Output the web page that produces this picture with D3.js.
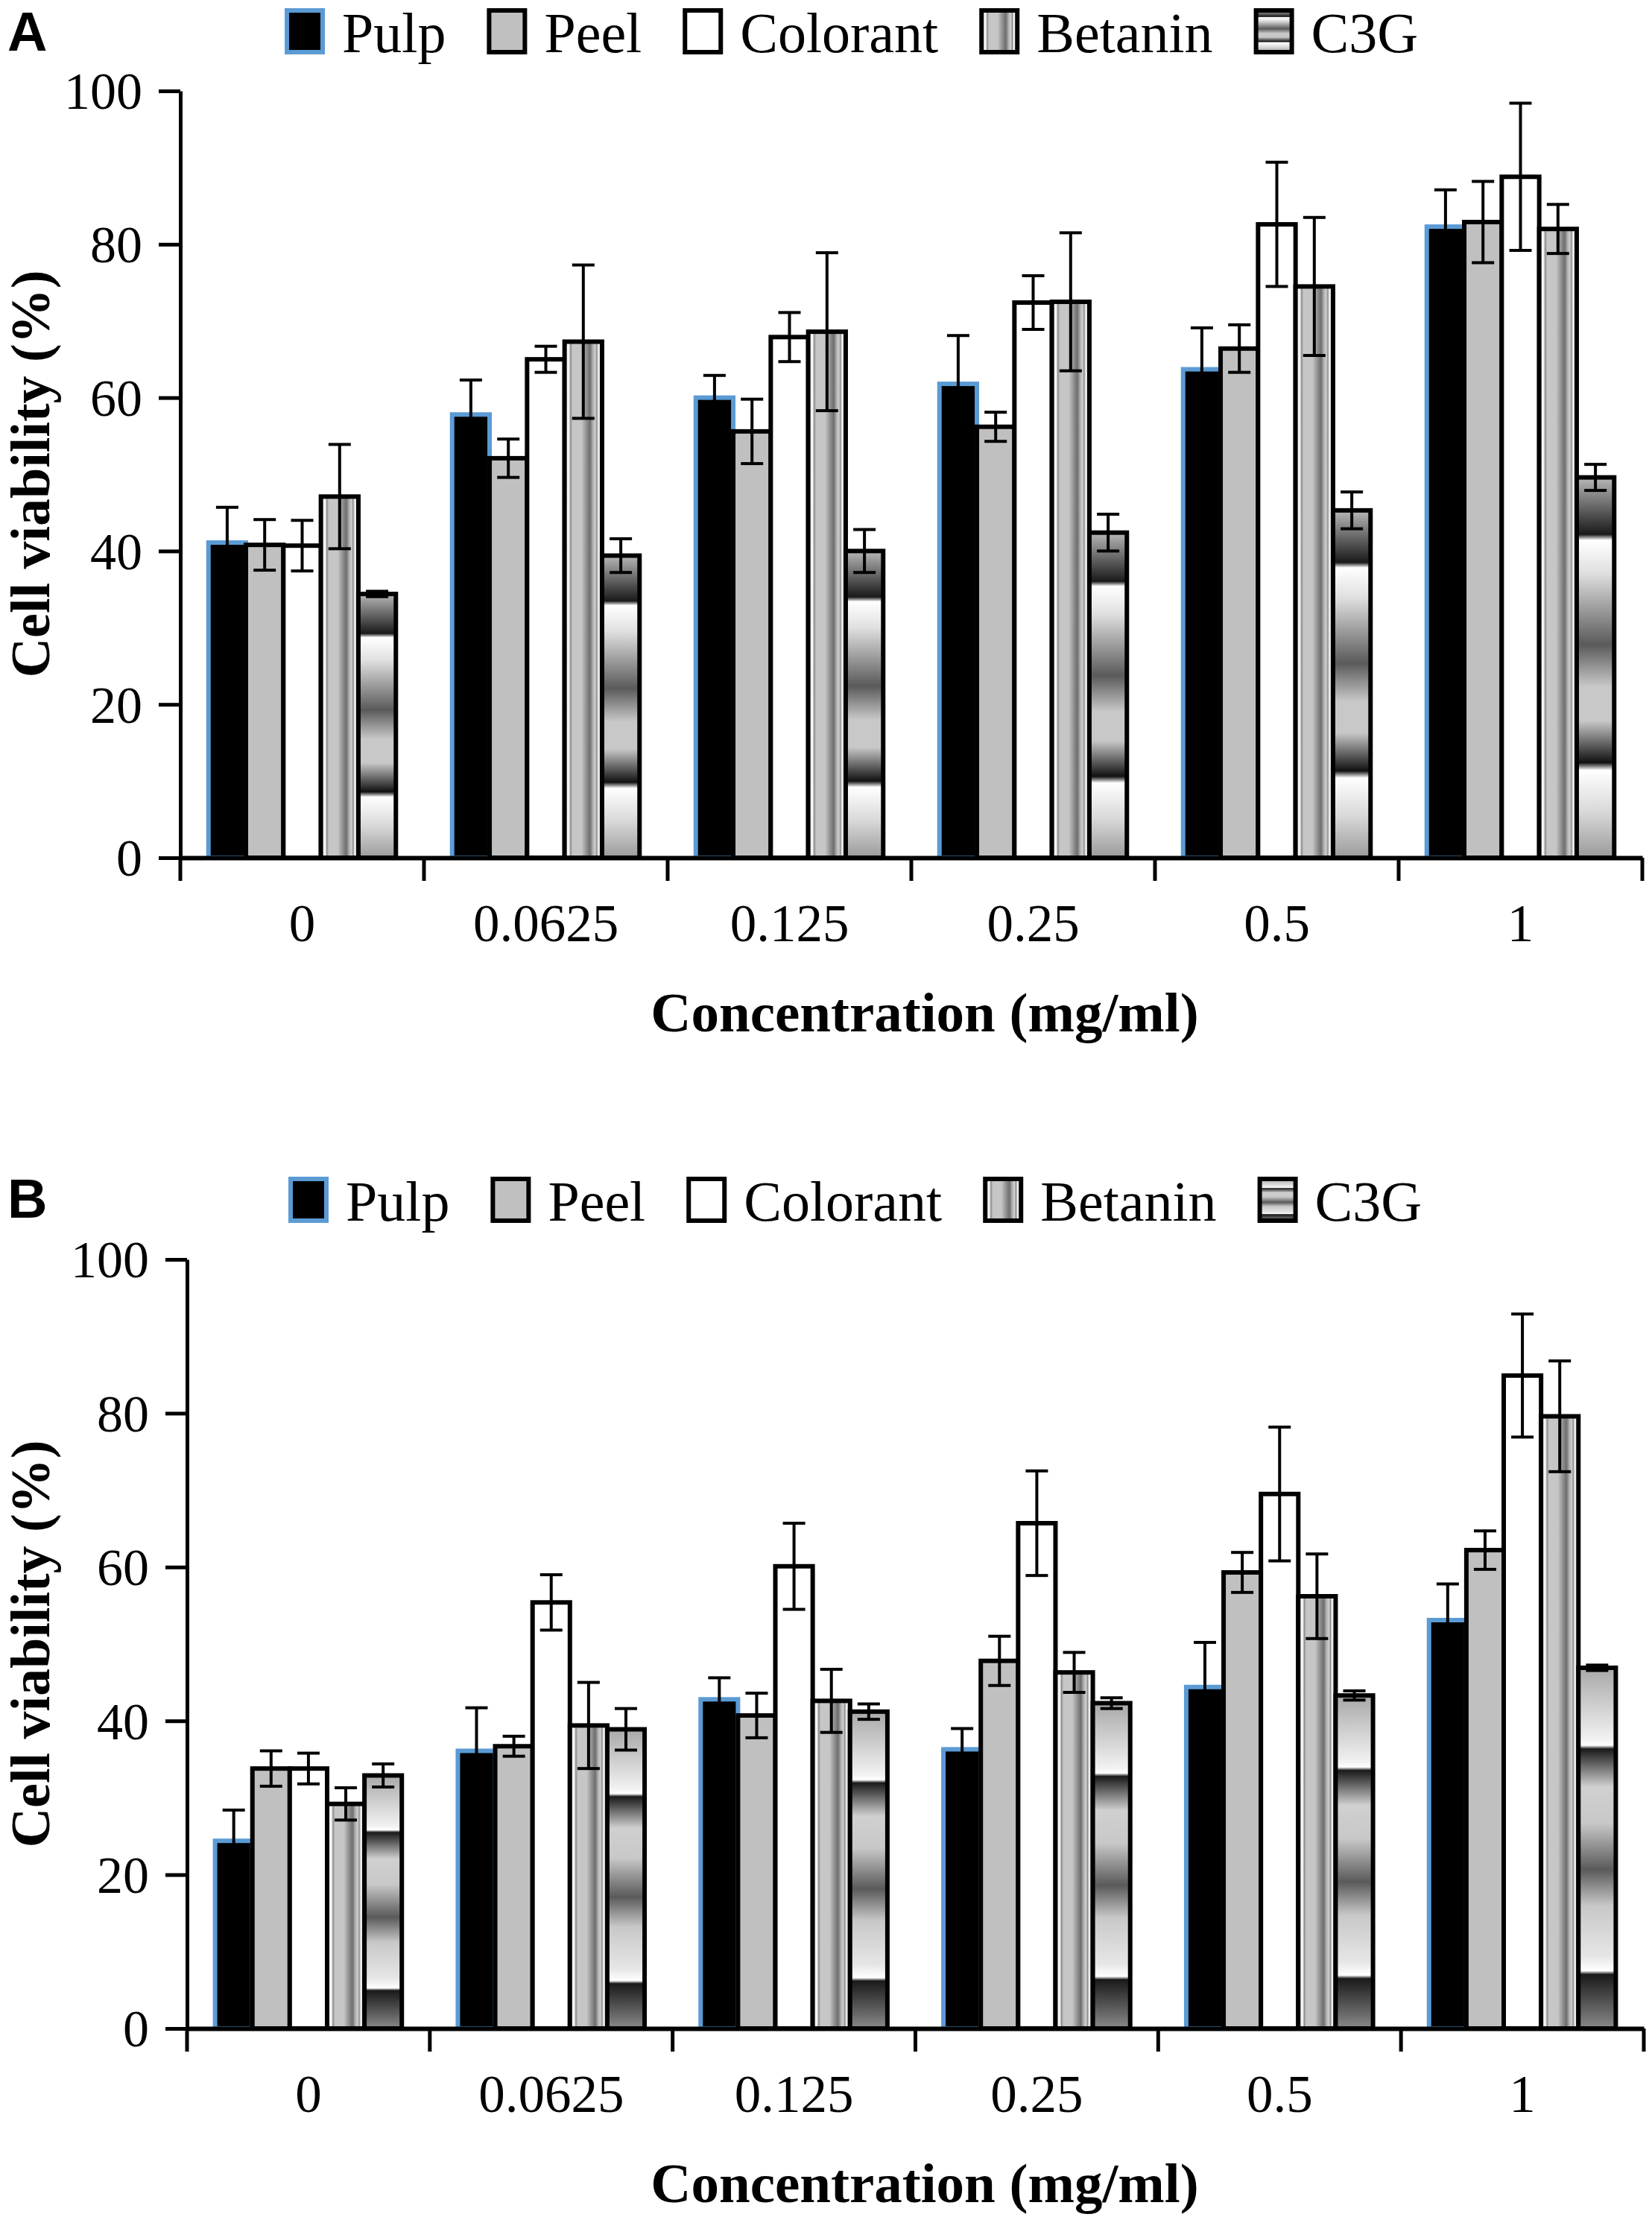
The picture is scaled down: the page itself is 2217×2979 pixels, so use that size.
<!DOCTYPE html>
<html>
<head>
<meta charset="utf-8">
<script src="https://cdn.jsdelivr.net/npm/d3@7"></script>
<style>
  body { margin: 0; background: #fff; }
  svg { display: block; }
</style>
</head>
<body>
<svg id="chart"></svg>
<script>
const W = 2217, H = 2979;

const categories = ["0", "0.0625", "0.125", "0.25", "0.5", "1"];
const series = ["Pulp", "Peel", "Colorant", "Betanin", "C3G"];
const yTicks = [0, 20, 40, 60, 80, 100];

// panel A
const aPulp = [41.1, 57.8, 60.0, 61.8, 63.7, 82.3];
const aPulpErr = [4.6, 4.5, 2.9, 6.3, 5.4, 4.8];
const aPeel = [40.8, 52.1, 55.6, 56.2, 66.4, 82.9];
const aPeelErr = [3.3, 2.5, 4.2, 1.9, 3.1, 5.3];
const aColorant = [40.7, 65.0, 67.9, 72.4, 82.6, 88.8];
const aColorantErr = [3.3, 1.7, 3.2, 3.5, 8.1, 9.6];
const aBetanin = [47.1, 67.3, 68.6, 72.5, 74.5, 82.0];
const aBetaninErr = [6.8, 10.0, 10.3, 9.0, 9.0, 3.2];
const aC3G = [34.4, 39.4, 40.0, 42.4, 45.3, 49.6];
const aC3GErr = [0.35, 2.2, 2.8, 2.4, 2.4, 1.7];

// panel B
const bPulp = [24.4, 36.1, 42.8, 36.3, 44.4, 53.1];
const bPulpErr = [4.0, 5.6, 2.8, 2.7, 5.8, 4.7];
const bPeel = [33.8, 36.7, 40.7, 47.8, 59.3, 62.2];
const bPeelErr = [2.3, 1.3, 2.9, 3.2, 2.6, 2.5];
const bColorant = [33.8, 55.4, 60.1, 65.7, 69.5, 84.9];
const bColorantErr = [2.0, 3.6, 5.6, 6.8, 8.7, 8.0];
const bBetanin = [29.2, 39.4, 42.6, 46.3, 56.2, 79.6];
const bBetaninErr = [2.1, 5.6, 4.1, 2.6, 5.5, 7.2];
const bC3G = [32.9, 38.9, 41.2, 42.3, 43.3, 46.9];
const bC3GErr = [1.5, 2.7, 1.0, 0.7, 0.6, 0.35];

const SERIF = "'Liberation Serif', 'Times New Roman', serif";
const SANS = "'Liberation Sans', Arial, sans-serif";

const svg = d3.select("#chart").attr("width", W).attr("height", H);
svg.append("rect").attr("width", W).attr("height", H).attr("fill", "#fff");

const defs = svg.append("defs");

function addGradient(id, vertical, stops) {
    const gr = defs.append("linearGradient").attr("id", id)
        .attr("x1", 0).attr("y1", 0)
        .attr("x2", vertical ? 0 : 1).attr("y2", vertical ? 1 : 0);
    stops.forEach(s => gr.append("stop").attr("offset", s[0]).attr("stop-color", s[1]));
}

addGradient("gradBetanin", false, [
    [0, "#f6f6f6"], [0.12, "#f4f4f4"], [0.16, "#8c8c8c"], [0.21, "#c6c6c6"],
    [0.45, "#c6c6c6"], [0.6, "#8a8a8a"], [0.68, "#6e6e6e"], [0.76, "#b4b4b4"],
    [0.82, "#cfcfcf"], [0.86, "#8c8c8c"], [0.9, "#f0f0f0"], [1, "#e6e6e6"]
]);
addGradient("gradC3GA", true, [
    [0, "#b8b8b8"], [0.15, "#1a1a1a"], [0.165, "#ffffff"], [0.25, "#e0e0e0"],
    [0.44, "#5a5a5a"], [0.55, "#c8c8c8"], [0.64, "#c8c8c8"], [0.75, "#111111"],
    [0.77, "#ffffff"], [0.88, "#d8d8d8"], [1, "#9a9a9a"]
]);
addGradient("gradC3GB", true, [
    [0, "#a8a8a8"], [0.2, "#f2f2f2"], [0.215, "#ffffff"], [0.225, "#1a1a1a"],
    [0.33, "#d0d0d0"], [0.43, "#c8c8c8"], [0.56, "#5a5a5a"], [0.66, "#c8c8c8"],
    [0.8, "#e6e6e6"], [0.84, "#ffffff"], [0.85, "#1a1a1a"], [1, "#8a8a8a"]
]);

function fillFor(s, p) {
    if (s === "Pulp") return "#000";
    if (s === "Peel") return "#c0c0c0";
    if (s === "Colorant") return "#fff";
    if (s === "Betanin") return "url(#gradBetanin)";
    return `url(#${p.grad})`;
}
function strokeFor(s) {
    return s === "Pulp" ? "#5b9bd5" : "#000";
}

const panels = [
    {
        letter: "A", letterY: 68,
        left: 242, right: 2204, y0: 1151, y100: 122,
        legendX: 385, legendY: 70, xTitleY: 1384, yTitleY: 636,
        grad: "gradC3GA",
        values: [aPulp, aPeel, aColorant, aBetanin, aC3G],
        errors: [aPulpErr, aPeelErr, aColorantErr, aBetaninErr, aC3GErr]
    },
    {
        letter: "B", letterY: 1634,
        left: 251, right: 2206, y0: 2722, y100: 1690,
        legendX: 390, legendY: 1638, xTitleY: 2955, yTitleY: 2206,
        grad: "gradC3GB",
        values: [bPulp, bPeel, bColorant, bBetanin, bC3G],
        errors: [bPulpErr, bPeelErr, bColorantErr, bBetaninErr, bC3GErr]
    }
];

function drawPanel(p) {
    const g = svg.append("g");

    const x0 = d3.scaleBand().domain(categories).range([p.left, p.right]).paddingInner(0).paddingOuter(0);
    const x1 = d3.scaleBand().domain(series).range([0, x0.bandwidth()]).paddingInner(0).paddingOuter(0.75);
    const y = d3.scaleLinear().domain([0, 100]).range([p.y0, p.y100]);

    const rows = categories.map((c, i) => ({
        cat: c,
        vals: series.map((s, j) => ({ s, v: p.values[j][i], e: p.errors[j][i] }))
    }));

    const groups = g.append("g")
        .selectAll("g")
        .data(rows)
        .join("g")
        .attr("transform", d => `translate(${x0(d.cat)},0)`);

    groups.selectAll("rect")
        .data(d => d.vals)
        .join("rect")
        .attr("x", d => x1(d.s))
        .attr("y", d => y(d.v))
        .attr("width", x1.bandwidth())
        .attr("height", d => y(0) - y(d.v))
        .attr("fill", d => fillFor(d.s, p))
        .attr("stroke", d => strokeFor(d.s))
        .attr("stroke-width", 6);

    // error bars
    const eb = groups.selectAll("g.err")
        .data(d => d.vals)
        .join("g")
        .attr("class", "err")
        .attr("stroke", "#000")
        .attr("stroke-width", 4);
    const cx = d => x1(d.s) + x1.bandwidth() / 2;
    eb.append("line")
        .attr("x1", cx).attr("x2", cx)
        .attr("y1", d => y(d.v - d.e)).attr("y2", d => y(d.v + d.e));
    eb.append("line")
        .attr("x1", d => cx(d) - 15).attr("x2", d => cx(d) + 15)
        .attr("y1", d => y(d.v + d.e)).attr("y2", d => y(d.v + d.e));
    eb.append("line")
        .attr("x1", d => cx(d) - 15).attr("x2", d => cx(d) + 15)
        .attr("y1", d => y(d.v - d.e)).attr("y2", d => y(d.v - d.e));

    // y axis
    const ya = g.append("g")
        .attr("transform", `translate(${p.left},0)`)
        .call(d3.axisLeft(y).tickValues(yTicks).tickSize(29).tickSizeOuter(0).tickPadding(22));
    ya.select(".domain").attr("stroke", "#000").attr("stroke-width", 5);
    ya.selectAll(".tick line").attr("stroke", "#000").attr("stroke-width", 5);
    ya.selectAll(".tick text")
        .attr("font-family", SERIF).attr("font-size", 70).attr("fill", "#000")
        .attr("dy", "0.34em");

    // x axis
    const xa = g.append("g")
        .attr("transform", `translate(0,${p.y0})`)
        .call(d3.axisBottom(x0).tickSize(0).tickSizeOuter(0));
    xa.select(".domain").attr("stroke", "#000").attr("stroke-width", 6);
    xa.selectAll(".tick text")
        .attr("font-family", SERIF).attr("font-size", 71).attr("fill", "#000")
        .attr("y", 112).attr("dy", 0);

    const bounds = categories.map(c => x0(c)).concat([x0(categories[categories.length - 1]) + x0.bandwidth()]);
    xa.selectAll("line.bound")
        .data(bounds)
        .join("line")
        .attr("class", "bound")
        .attr("x1", d => d).attr("x2", d => d)
        .attr("y1", 0).attr("y2", 31)
        .attr("stroke", "#000").attr("stroke-width", 5);

    // axis titles
    g.append("text")
        .attr("x", 1241).attr("y", p.xTitleY)
        .attr("text-anchor", "middle")
        .attr("font-family", SERIF).attr("font-weight", "bold").attr("font-size", 75)
        .text("Concentration (mg/ml)");

    g.append("text")
        .attr("transform", `translate(66,${p.yTitleY}) rotate(-90)`)
        .attr("text-anchor", "middle")
        .attr("font-family", SERIF).attr("font-weight", "bold").attr("font-size", 74)
        .text("Cell viability (%)");

    // panel letter
    g.append("text")
        .attr("x", 10).attr("y", p.letterY)
        .attr("font-family", SANS).attr("font-weight", "bold").attr("font-size", 74)
        .text(p.letter);

    // legend
    const lg = g.append("g");
    let lx = p.legendX;
    series.forEach(s => {
        lg.append("rect")
            .attr("x", lx).attr("y", p.legendY - 56)
            .attr("width", 48).attr("height", 56)
            .attr("fill", fillFor(s, p))
            .attr("stroke", strokeFor(s))
            .attr("stroke-width", 6);
        const t = lg.append("text")
            .attr("x", lx + 74).attr("y", p.legendY)
            .attr("font-family", SERIF).attr("font-size", 76)
            .text(s);
        lx += 74 + t.node().getComputedTextLength() + 58;
    });
}

panels.forEach(drawPanel);
</script>
</body>
</html>
